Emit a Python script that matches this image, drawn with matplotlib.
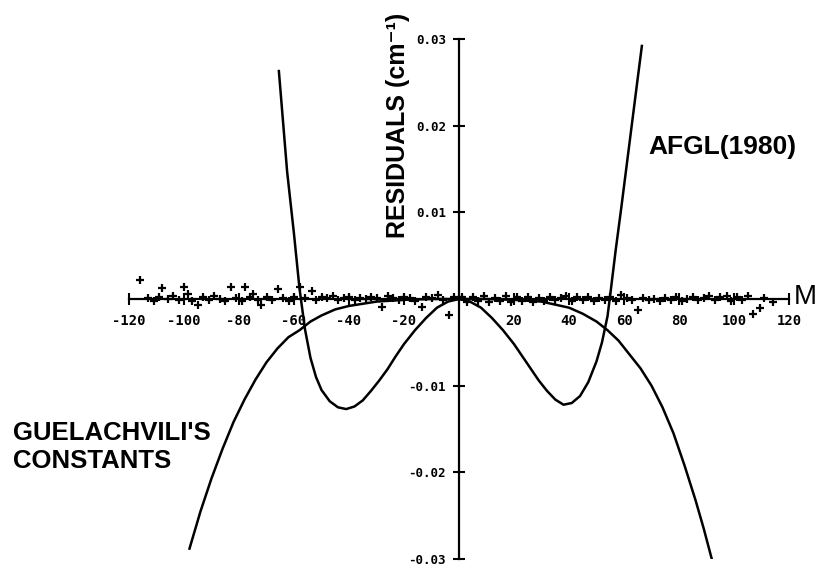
import matplotlib
matplotlib.use("Agg")
import matplotlib.pyplot as plt

# values
# AFGL (1980) residual curve
afgl_m = [-65.5, -64, -62.5, -60, -58, -56, -54, -52, -50, -47, -44, -41, -38, -35,
          -32, -29, -26, -23, -20, -16, -12, -8, -4, 0, 4, 8, 12, 16, 20, 23, 26,
          29, 32, 35, 38, 41, 44, 47, 50, 52, 54, 55, 57, 59, 61, 63, 65, 66.5]
afgl_res = [0.0263, 0.0205, 0.0147, 0.0075, 0.0012, -0.0035, -0.0068, -0.0090,
            -0.0105, -0.0118, -0.0125, -0.0127, -0.0124, -0.0117, -0.0106, -0.0094,
            -0.0081, -0.0066, -0.0052, -0.0036, -0.0022, -0.0010, -0.0003, 0.0,
            -0.0003, -0.0010, -0.0022, -0.0036, -0.0052, -0.0066, -0.0080, -0.0094,
            -0.0106, -0.0116, -0.0122, -0.0120, -0.0112, -0.0096, -0.0072, -0.0050,
            -0.0020, 0.0005, 0.0057, 0.0105, 0.0155, 0.0205, 0.0255, 0.0292]

# Guelachvili's constants residual curve
guel_m = [-98, -94, -90, -86, -82, -78, -74, -70, -66, -62, -58, -54, -50, -45, -40,
          -30, -20, -10, 0, 10, 20, 30, 40, 45, 50, 54, 58, 62, 66, 70, 74, 78, 82,
          86, 89, 92]
guel_res = [-0.0288, -0.0245, -0.0207, -0.0173, -0.0142, -0.0116, -0.0093, -0.0073,
            -0.0057, -0.0044, -0.0036, -0.0026, -0.0019, -0.0012, -0.0008, -0.0003,
            -0.0001, 0.0, 0.0, 0.0, -0.0001, -0.0003, -0.0010, -0.0017, -0.0026,
            -0.0036, -0.0048, -0.0064, -0.0080, -0.0100, -0.0125, -0.0155, -0.0192,
            -0.0232, -0.0265, -0.0301]

# observed residuals (+ markers)
obs_m = [-116, -113, -111, -109, -108, -106, -104, -102, -100, -98.5, -97, -95, -93,
         -91, -89, -87, -85, -83, -81, -79, -78, -76, -75, -73, -72, -70, -68, -66,
         -64, -62, -60, -58, -56, -53.5, -52, -50, -48, -46, -44, -42, -40, -38, -36,
         -34, -32, -30, -28, -26, -24, -22, -20, -18, -16, -13.5, -12, -10, -7.5, -6,
         -3.6, -2,
         1, 3, 5, 7, 9, 11, 13, 15, 17, 19, 21, 23, 25, 27, 29, 31, 33, 35, 37, 39,
         41, 43, 45, 47, 49, 51, 53, 55, 57, 59, 61, 63, 65, 67, 69, 71, 73, 75, 77,
         79, 81, 83, 85, 87, 89, 91, 93, 95, 97.5, 99, 101, 103, 105, 107, 109.5,
         111, 114]
obs_res = [0.0022, 0.0001, -0.0002, 0.0002, 0.0013, 0.0000, 0.0003, -0.0001, 0.0014,
           0.0006, -0.0002, -0.0007, 0.0002, -0.0001, 0.0003, 0.0000, -0.0002, 0.0014,
           0.0001, -0.0002, 0.0014, 0.0002, 0.0006, -0.0001, -0.0007, 0.0002, -0.0001,
           0.0011, 0.0001, -0.0002, 0.0002, 0.0014, 0.0001, 0.0009, -0.0001, 0.0002,
           0.0001, 0.0004, -0.0001, 0.0001, 0.0002, -0.0001, 0.0001, 0.0000, 0.0002,
           0.0001, -0.0009, 0.0004, 0.0001, -0.0001, 0.0002, 0.0001, -0.0002, -0.0009,
           0.0002, 0.0001, 0.0005, -0.0001, -0.0018, 0.0002,
           0.0002, -0.0003, 0.0002, -0.0002, 0.0003, -0.0003, 0.0001, -0.0002, 0.0003,
           -0.0003, 0.0002, -0.0002, 0.0002, -0.0003, 0.0001, -0.0002, 0.0002, -0.0001,
           0.0001, 0.0004, -0.0002, 0.0002, -0.0001, 0.0002, -0.0002, 0.0001, -0.0001,
           0.0002, -0.0002, 0.0005, 0.0001, -0.0001, -0.0013, 0.0001, -0.0001, 0.0000,
           -0.0002, 0.0001, -0.0001, 0.0002, -0.0002, 0.0000, 0.0002, -0.0001, 0.0001,
           0.0003, -0.0001, 0.0002, 0.0004, -0.0002, 0.0002, -0.0001, 0.0004, -0.0017,
           -0.0010, 0.0001, -0.0003]

x_ticks = [-120, -100, -80, -60, -40, -20, 20, 40, 60, 80, 100, 120]
x_labels = ["-120", "-100", "-80", "-60", "-40", "-20", "20", "40", "60", "80", "100", "120"]
y_ticks = [-0.03, -0.02, -0.01, 0.01, 0.02, 0.03]
y_labels = ["-0.03", "-0.02", "-0.01", "0.01", "0.02", "0.03"]

label_font = ["Liberation Sans", "DejaVu Sans"]
tick_font = ["DejaVu Sans Mono", "DejaVu Sans"]

fig = plt.figure(figsize=(8.3, 5.71), dpi=100)
ax = fig.add_axes([129 / 830, 12 / 571, 660 / 830, 520 / 571])
ax.set_xlim(-120, 120)
ax.set_ylim(-0.03, 0.03)

ax.plot(afgl_m, afgl_res, color="black", lw=1.8)
ax.plot(guel_m, guel_res, color="black", lw=1.8)
ax.plot(obs_m, obs_res, ls="none", marker="+", ms=6, mew=1.6, color="black")

# axes crossing at the origin
for side in ["top", "right"]:
    ax.spines[side].set_visible(False)
ax.spines["left"].set_position(("data", 0))
ax.spines["bottom"].set_position(("data", 0))
ax.spines["left"].set_linewidth(1.6)
ax.spines["bottom"].set_linewidth(1.6)

ax.set_xticks(x_ticks)
ax.set_xticklabels(x_labels, family=tick_font, fontweight="bold", fontsize=10)
ax.set_yticks(y_ticks)
ax.set_yticklabels(y_labels, family=tick_font, fontweight="bold", fontsize=9)
ax.tick_params(axis="both", direction="inout", length=9, width=1.5)
ax.tick_params(axis="x", pad=6)
ax.tick_params(axis="y", pad=5)

ax.text(126, 0.0002, "M", family=label_font, fontsize=20, ha="center", va="center")
ax.text(-22.2, 0.0200, "RESIDUALS (cm\u207b\u00b9)", family=label_font, fontweight="bold",
        fontsize=18, rotation=90, ha="center", va="center")
ax.text(68.7, 0.0175, "AFGL(1980)", family=label_font, fontweight="bold",
        fontsize=19, ha="left", va="center")
ax.text(-162, -0.0171, "GUELACHVILI'S\nCONSTANTS", family=label_font, fontweight="bold",
        fontsize=18.5, ha="left", va="center", linespacing=1.2)

fig.savefig("out.png", dpi=100)
plt.close(fig)
